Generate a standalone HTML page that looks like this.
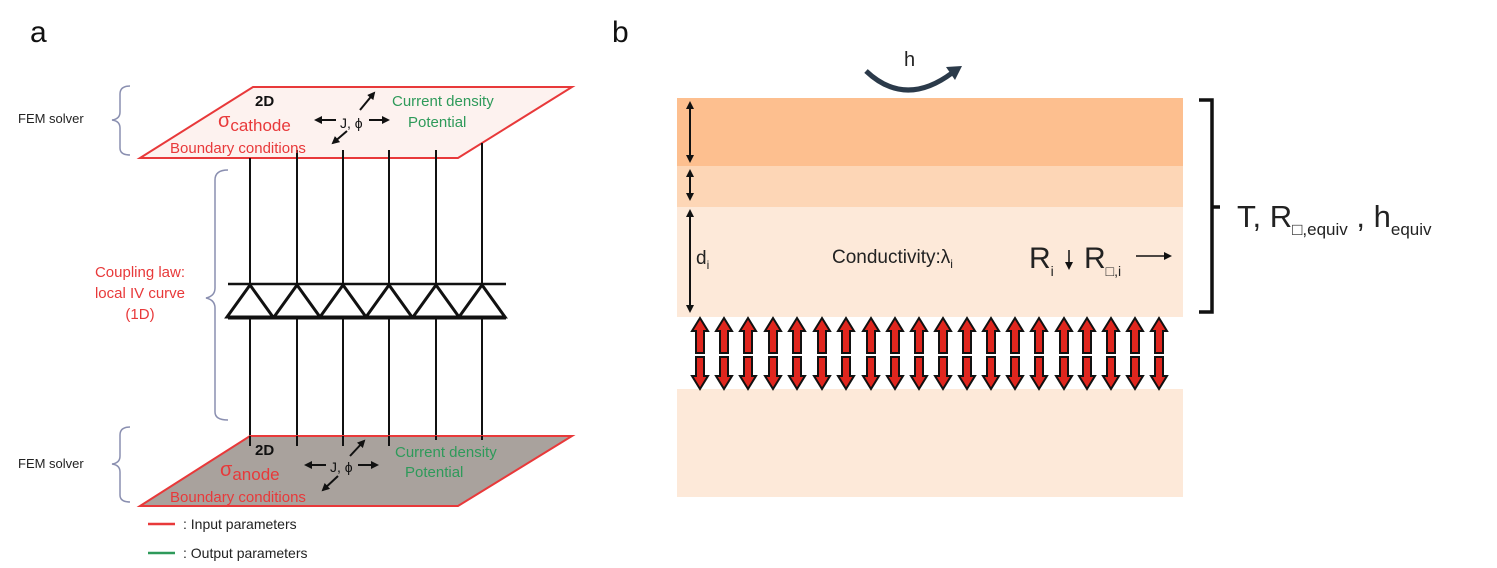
<!DOCTYPE html>
<html><head><meta charset="utf-8"><style>
html,body{margin:0;padding:0;background:#fff;width:1497px;height:568px;overflow:hidden}
svg{display:block;font-family:"Liberation Sans",sans-serif}
</style></head><body>
<svg width="1497" height="568" viewBox="0 0 1497 568" xmlns="http://www.w3.org/2000/svg">
<defs>
<marker id="ah" markerWidth="8" markerHeight="8" refX="6" refY="4" orient="auto-start-reverse" markerUnits="userSpaceOnUse"><path d="M0,0 L8,4 L0,8 Z" fill="#111"/></marker>
<g id="up"><path d="M0,0 L8,13 L4,13 L4,35 L-4,35 L-4,13 L-8,13 Z" fill="#e0261e" stroke="#111" stroke-width="2"/></g>
<g id="dn"><path d="M0,32 L8,19 L4,19 L4,0 L-4,0 L-4,19 L-8,19 Z" fill="#e0261e" stroke="#111" stroke-width="2"/></g>
</defs>
<text x="30" y="42" font-size="30" fill="#111">a</text>
<text x="612" y="42" font-size="30" fill="#111">b</text>

<polygon points="253,87 572,87 458,158 140,158" fill="#fdf2ef" stroke="#e8393a" stroke-width="2"/>
<g stroke="#111" stroke-width="2">
<line x1="250" y1="158" x2="250" y2="440"/>
<line x1="297" y1="150" x2="297" y2="445"/>
<line x1="343" y1="150" x2="343" y2="445"/>
<line x1="389" y1="150" x2="389" y2="445"/>
<line x1="436" y1="150" x2="436" y2="440"/>
<line x1="482" y1="143" x2="482" y2="440"/>
<line x1="228" y1="284" x2="506" y2="284" stroke-width="2.5"/>
<line x1="228" y1="318" x2="506" y2="318" stroke-width="3"/>
</g>
<g fill="#fff" stroke="#111" stroke-width="3">
<path d="M250,285 L227,317 L273,317 Z M297,285 L274,317 L320,317 Z M343,285 L320,317 L366,317 Z M389,285 L366,317 L412,317 Z M436,285 L413,317 L459,317 Z M482,285 L459,317 L505,317 Z"/>
</g>
<polygon points="250,436 572,436 458,506 140,506" fill="#a9a29d" stroke="#e8393a" stroke-width="2"/>
<g stroke="#111" stroke-width="2"><line x1="250" y1="436" x2="250" y2="446"/><line x1="297" y1="436" x2="297" y2="446"/><line x1="343" y1="436" x2="343" y2="446"/><line x1="389" y1="436" x2="389" y2="446"/><line x1="436" y1="436" x2="436" y2="440"/><line x1="482" y1="436" x2="482" y2="440"/></g>

<text x="255" y="106" font-size="15" font-weight="bold" fill="#111">2D</text>
<text x="218" y="127" font-size="20" fill="#e8393a">σ<tspan font-size="17" dy="4">cathode</tspan></text>
<text x="170" y="153" font-size="15" fill="#e8393a">Boundary conditions</text>
<text x="392" y="106" font-size="15" fill="#2e9a5a">Current density</text>
<text x="408" y="127" font-size="15" fill="#2e9a5a">Potential</text>
<text x="340" y="128" font-size="14" fill="#111">J, ϕ</text>
<g stroke="#111" stroke-width="2" fill="none">
<line x1="336" y1="120" x2="316" y2="120" marker-end="url(#ah)"/>
<line x1="369" y1="120" x2="388" y2="120" marker-end="url(#ah)"/>
<line x1="360" y1="110" x2="374" y2="93" marker-end="url(#ah)"/>
<line x1="347" y1="131" x2="333" y2="143" marker-end="url(#ah)"/>
</g>
<text x="255" y="455" font-size="15" font-weight="bold" fill="#111">2D</text>
<text x="220" y="476" font-size="20" fill="#e8393a">σ<tspan font-size="17" dy="4">anode</tspan></text>
<text x="170" y="502" font-size="15" fill="#e8393a">Boundary conditions</text>
<text x="395" y="457" font-size="15" fill="#2e9a5a">Current density</text>
<text x="405" y="477" font-size="15" fill="#2e9a5a">Potential</text>
<text x="330" y="472" font-size="14" fill="#111">J, ϕ</text>
<g stroke="#111" stroke-width="2" fill="none">
<line x1="326" y1="465" x2="306" y2="465" marker-end="url(#ah)"/>
<line x1="358" y1="465" x2="377" y2="465" marker-end="url(#ah)"/>
<line x1="350" y1="456" x2="364" y2="441" marker-end="url(#ah)"/>
<line x1="338" y1="476" x2="323" y2="490" marker-end="url(#ah)"/>
</g>

<g stroke="#8a8fb0" stroke-width="1.5" fill="none">
<path d="M130,86 Q120,86 120,94 L120,112 Q120,119 112,120 Q120,121 120,128 L120,148 Q120,155 130,155"/>
<path d="M228,170 Q215,170 215,180 L215,288 Q215,296 206,298 Q215,300 215,308 L215,412 Q215,420 228,420"/>
<path d="M130,427 Q120,427 120,435 L120,456 Q120,463 112,464 Q120,465 120,472 L120,495 Q120,502 130,502"/>
</g>
<text x="18" y="123" font-size="13" fill="#222">FEM solver</text>
<text x="18" y="468" font-size="13" fill="#222">FEM solver</text>
<text x="140" y="277" font-size="15" fill="#e8393a" text-anchor="middle">Coupling law:</text>
<text x="140" y="298" font-size="15" fill="#e8393a" text-anchor="middle">local IV curve</text>
<text x="140" y="319" font-size="15" fill="#e8393a" text-anchor="middle">(1D)</text>

<line x1="148" y1="524" x2="175" y2="524" stroke="#e8393a" stroke-width="2.5"/>
<text x="183" y="529" font-size="14" fill="#222">: Input parameters</text>
<line x1="148" y1="553" x2="175" y2="553" stroke="#2e9a5a" stroke-width="2.5"/>
<text x="183" y="558" font-size="14" fill="#222">: Output parameters</text>

<rect x="677" y="98" width="506" height="68" fill="#fdbf8f"/>
<rect x="677" y="166" width="506" height="41" fill="#fdd6b6"/>
<rect x="677" y="207" width="506" height="110" fill="#fde9d9"/>
<rect x="677" y="389" width="506" height="108" fill="#fde9d9"/>

<g stroke="#111" stroke-width="2" fill="none">
<line x1="690" y1="103" x2="690" y2="161" marker-start="url(#ah)" marker-end="url(#ah)"/>
<line x1="690" y1="171" x2="690" y2="199" marker-start="url(#ah)" marker-end="url(#ah)"/>
<line x1="690" y1="211" x2="690" y2="311" marker-start="url(#ah)" marker-end="url(#ah)"/>
<line x1="1069" y1="250" x2="1069" y2="268" stroke-width="1.5" marker-end="url(#ah)"/>
<line x1="1136" y1="256" x2="1170" y2="256" stroke-width="1.5" marker-end="url(#ah)"/>
</g>
<text x="696" y="264" font-size="19" fill="#222">d<tspan font-size="12" dy="5">i</tspan></text>
<text x="832" y="263" font-size="19" fill="#222">Conductivity:λ<tspan font-size="12" dy="5">i</tspan></text>
<text x="1029" y="268" font-size="30" fill="#222">R<tspan font-size="14" dy="8">i</tspan></text>
<text x="1084" y="268" font-size="30" fill="#222">R<tspan font-size="14" dy="8">□,i</tspan></text>

<path d="M866,71 Q905,108 952,73" fill="none" stroke="#2b3a4a" stroke-width="5"/>
<path d="M946,67 L962,66 L955,80 Z" fill="#2b3a4a"/>
<text x="904" y="66" font-size="20" fill="#222">h</text>

<g>
<use href="#up" x="700" y="318"/><use href="#up" x="724" y="318"/><use href="#up" x="748" y="318"/><use href="#up" x="773" y="318"/><use href="#up" x="797" y="318"/><use href="#up" x="822" y="318"/><use href="#up" x="846" y="318"/><use href="#up" x="871" y="318"/><use href="#up" x="895" y="318"/><use href="#up" x="919" y="318"/><use href="#up" x="943" y="318"/><use href="#up" x="967" y="318"/><use href="#up" x="991" y="318"/><use href="#up" x="1015" y="318"/><use href="#up" x="1039" y="318"/><use href="#up" x="1064" y="318"/><use href="#up" x="1087" y="318"/><use href="#up" x="1111" y="318"/><use href="#up" x="1135" y="318"/><use href="#up" x="1159" y="318"/>
<use href="#dn" x="700" y="357"/><use href="#dn" x="724" y="357"/><use href="#dn" x="748" y="357"/><use href="#dn" x="773" y="357"/><use href="#dn" x="797" y="357"/><use href="#dn" x="822" y="357"/><use href="#dn" x="846" y="357"/><use href="#dn" x="871" y="357"/><use href="#dn" x="895" y="357"/><use href="#dn" x="919" y="357"/><use href="#dn" x="943" y="357"/><use href="#dn" x="967" y="357"/><use href="#dn" x="991" y="357"/><use href="#dn" x="1015" y="357"/><use href="#dn" x="1039" y="357"/><use href="#dn" x="1064" y="357"/><use href="#dn" x="1087" y="357"/><use href="#dn" x="1111" y="357"/><use href="#dn" x="1135" y="357"/><use href="#dn" x="1159" y="357"/>
</g>

<path d="M1199,100 L1212,100 L1212,312 L1199,312 M1212,207 L1220,207" fill="none" stroke="#111" stroke-width="3.5"/>
<text x="1237" y="227" font-size="31" fill="#222">T, R<tspan font-size="17" dy="8">□,equiv</tspan><tspan dy="-8"> , h</tspan><tspan font-size="17" dy="8">equiv</tspan></text>
</svg>
</body></html>
